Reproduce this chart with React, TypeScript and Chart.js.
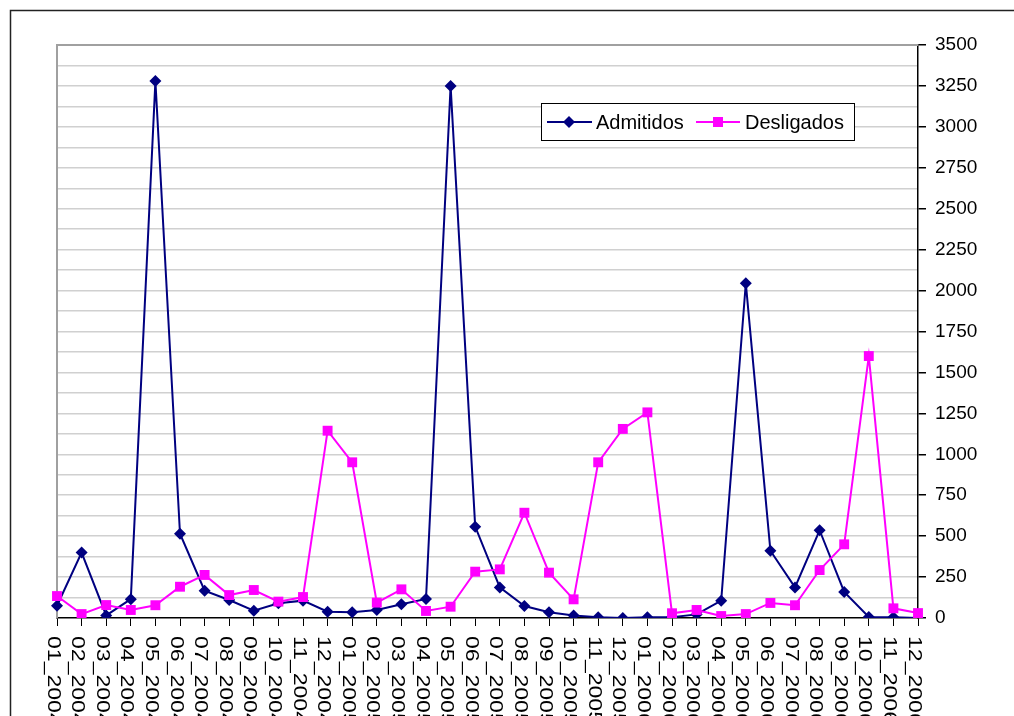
import React, { useEffect, useRef } from 'react';
import { Chart, registerables } from 'chart.js';

Chart.register(...registerables);

const months = ['01', '02', '03', '04', '05', '06', '07', '08', '09', '10', '11', '12'];
const years = ['2004', '2005', '2006'];
const categories: string[] = years.flatMap((y) => months.map((m) => `${m}_${y}`));

const admitidos = [
  75, 400, 16, 115, 3280, 515, 167, 110, 45, 90, 106, 38,
  35, 49, 84, 116, 3250, 558, 187, 73, 35, 16, 5, 0,
  5, 5, 22, 106, 2045, 411, 187, 536, 159, 6, 5, 0,
];
const desligados = [
  134, 24, 79, 49, 78, 191, 263, 140, 171, 100, 128, 1144,
  951, 94, 175, 43, 69, 283, 297, 643, 277, 114, 951, 1155,
  1256, 29, 49, 12, 24, 92, 78, 293, 450, 1600, 59, 30,
];
const seriesNames = ['Admitidos', 'Desligados'];
const yMin = 0;
const yMax = 3500;
const yMajor = 250;
const yMinor = 125;

const NAVY = '#000080';
const PINK = '#FF00FF';
const FONT = '"Liberation Sans", Arial, sans-serif';

const decor = {
  id: 'decor',
  beforeDatasetsDraw(chart: any) {
    const { ctx, chartArea } = chart;
    ctx.save();
    ctx.strokeStyle = '#a0a0a0';
    ctx.lineWidth = 2;
    ctx.beginPath();
    ctx.moveTo(chartArea.left, chartArea.bottom);
    ctx.lineTo(chartArea.left, chartArea.top);
    ctx.lineTo(chartArea.right, chartArea.top);
    ctx.stroke();
    ctx.restore();
  },
  afterDraw(chart: any) {
    const { ctx } = chart;
    const xs = chart.scales.x;
    ctx.save();
    // outer frame
    ctx.strokeStyle = '#222';
    ctx.lineWidth = 1.5;
    ctx.beginPath();
    ctx.moveTo(10.5, 716);
    ctx.lineTo(10.5, 10.5);
    ctx.lineTo(1014, 10.5);
    ctx.stroke();

    // x labels rotated clockwise
    ctx.fillStyle = '#000';
    ctx.font = `18px ${FONT}`;
    ctx.textAlign = 'left';
    ctx.textBaseline = 'alphabetic';
    categories.forEach((lab, i) => {
      const x = xs.getPixelForValue(i);
      ctx.save();
      ctx.translate(x, 636);
      ctx.rotate(Math.PI / 2);
      ctx.scale(1.28, 1);
      ctx.fillText(lab, 0, 9.5);
      ctx.restore();
    });

    // legend
    const lx = 541, ly = 103, lw = 314, lh = 38;
    ctx.fillStyle = '#fff';
    ctx.fillRect(lx, ly, lw, lh);
    ctx.strokeStyle = '#000';
    ctx.lineWidth = 1;
    ctx.strokeRect(lx + 0.5, ly + 0.5, lw - 1, lh - 1);
    const cy = 122;
    // Admitidos
    ctx.strokeStyle = NAVY;
    ctx.lineWidth = 2;
    ctx.beginPath();
    ctx.moveTo(547, cy);
    ctx.lineTo(592, cy);
    ctx.stroke();
    ctx.fillStyle = NAVY;
    ctx.beginPath();
    ctx.moveTo(569, cy - 6);
    ctx.lineTo(575, cy);
    ctx.lineTo(569, cy + 6);
    ctx.lineTo(563, cy);
    ctx.closePath();
    ctx.fill();
    // Desligados
    ctx.strokeStyle = PINK;
    ctx.beginPath();
    ctx.moveTo(696, cy);
    ctx.lineTo(740, cy);
    ctx.stroke();
    ctx.fillStyle = PINK;
    ctx.fillRect(718 - 5, cy - 5, 10, 10);
    ctx.fillStyle = '#000';
    ctx.font = `20px ${FONT}`;
    ctx.fillText(seriesNames[0], 596, 129);
    ctx.fillText(seriesNames[1], 745, 129);
    ctx.restore();
  },
};

export default function App() {
  const ref = useRef<HTMLCanvasElement | null>(null);
  useEffect(() => {
    if (!ref.current) return;
    const chart = new Chart(ref.current, {
      type: 'line',
      data: {
        labels: categories,
        datasets: [
          {
            label: seriesNames[0],
            data: admitidos,
            borderColor: NAVY,
            backgroundColor: NAVY,
            borderWidth: 2,
            pointStyle: 'rectRot',
            pointRadius: 6,
            pointBorderWidth: 0,
            tension: 0,
            order: 1,
          },
          {
            label: seriesNames[1],
            data: desligados,
            borderColor: PINK,
            backgroundColor: PINK,
            borderWidth: 2,
            pointStyle: 'rect',
            pointRadius: 7,
            pointBorderWidth: 0,
            tension: 0,
            order: 0,
          },
        ],
      },
      options: {
        responsive: false,
        animation: false,
        layout: { padding: { left: 57, top: 45, right: 0, bottom: 0 }, autoPadding: false },
        plugins: { legend: { display: false }, tooltip: { enabled: false } },
        scales: {
          x: {
            type: 'category',
            offset: false,
            grid: {
              display: true,
              drawOnChartArea: false,
              drawTicks: true,
              tickLength: 8,
              tickColor: '#000',
              offset: false,
            },
            border: { color: '#000', width: 1.5 },
            ticks: { display: false, autoSkip: false },
            afterFit: (s: any) => { s.height = 98; },
          },
          y: {
            position: 'right',
            min: yMin,
            max: yMax,
            grid: {
              color: (c: any) => (c.tick && c.tick.value === 0 ? 'transparent' : '#d0d0d0'),
              lineWidth: 1.5,
              tickColor: (c: any) => (c.tick && c.tick.value % yMajor === 0 ? '#000' : 'transparent'),
              tickLength: 8,
            },
            border: { color: '#000', width: 1.5 },
            ticks: {
              stepSize: yMinor,
              autoSkip: false,
              padding: 9,
              color: '#000',
              font: { family: FONT, size: 19 },
              callback: (v: any) => (Number(v) % yMajor === 0 ? String(v) : ''),
            },
            afterFit: (s: any) => { s.width = 96; },
          },
        },
      },
      plugins: [decor],
    });
    return () => chart.destroy();
  }, []);
  return (
    <div style={{ position: 'absolute', left: 0, top: 0, width: 1014, height: 716, background: '#fff' }}>
      <canvas ref={ref} width={1014} height={716} />
    </div>
  );
}
